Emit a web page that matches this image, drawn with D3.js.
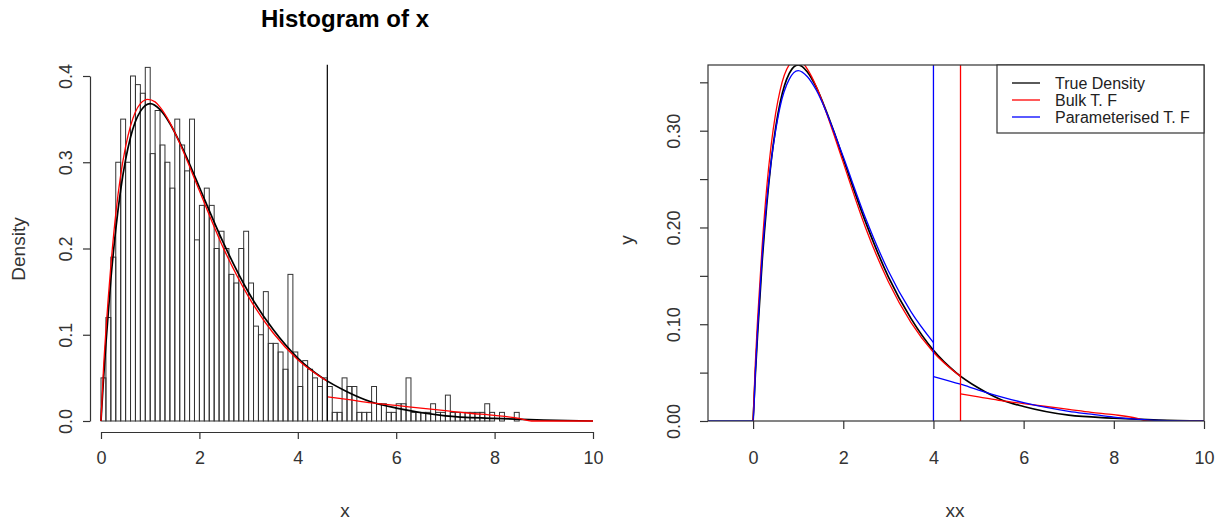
<!DOCTYPE html>
<html>
<head>
<meta charset="utf-8">
<script src="https://cdn.jsdelivr.net/npm/d3@7"></script>
<style>
  html, body { margin: 0; padding: 0; background: #fff; }
  svg { display: block; font-family: "Liberation Sans", Arial, sans-serif; }
</style>
</head>
<body>
<svg id="chart" width="1225" height="522"></svg>
<script>
// ---------------- DATA ----------------
// Histogram (density, bin width 0.1, starting at 0)
const binWidth = 0.1;
const histDensity = [
  0.05, 0.12, 0.19, 0.30, 0.35, 0.30, 0.40, 0.39, 0.38, 0.41,
  0.31, 0.36, 0.32, 0.30, 0.27, 0.35, 0.32, 0.29, 0.35, 0.21,
  0.25, 0.27, 0.25, 0.20, 0.22, 0.20, 0.17, 0.16, 0.20, 0.22,
  0.16, 0.11, 0.10, 0.15, 0.09, 0.09, 0.08, 0.06, 0.17, 0.08,
  0.04, 0.07, 0.06, 0.05, 0.04, 0.05, 0.04, 0.01, 0.01, 0.05,
  0.04, 0.04, 0.01, 0.01, 0.01, 0.04, 0.02, 0.02, 0.01, 0.01,
  0.02, 0.02, 0.05, 0.01, 0.01, 0.01, 0.01, 0.02, 0.01, 0.01,
  0.03, 0.01, 0.01, 0.01, 0.01, 0.01, 0.01, 0.01, 0.02, 0.01,
  0.00, 0.01, 0.00, 0.00, 0.01, 0.00
];

// True density (black)
const trueX = [0, 0.05, 0.1, 0.2, 0.3, 0.4, 0.5, 0.6, 0.8, 1.0, 1.2, 1.4, 1.6, 1.8, 2.0, 2.5, 3.0, 3.5, 4.0, 4.5, 5.0, 5.5, 6.0, 7.0, 8.0, 9.0, 10.0];
const trueY = [0, 0.048, 0.090, 0.164, 0.222, 0.268, 0.303, 0.329, 0.359, 0.368, 0.361, 0.345, 0.323, 0.298, 0.271, 0.205, 0.149, 0.106, 0.073, 0.050, 0.034, 0.022, 0.015, 0.006, 0.003, 0.001, 0.000];

// Bulk tail fit (red): body up to threshold 4.6, then tail
const bulkBodyX = [0, 0.05, 0.1, 0.2, 0.3, 0.4, 0.5, 0.6, 0.8, 0.95, 1.1, 1.2, 1.4, 1.6, 1.8, 2.0, 2.5, 3.0, 3.5, 4.0, 4.6];
const bulkBodyY = [0, 0.060, 0.105, 0.180, 0.240, 0.285, 0.318, 0.342, 0.368, 0.373, 0.370, 0.364, 0.346, 0.322, 0.295, 0.267, 0.199, 0.144, 0.102, 0.071, 0.046];
const bulkTailX = [4.6, 5.0, 5.5, 6.0, 6.5, 7.0, 7.5, 8.0, 8.5, 8.75, 10.0];
const bulkTailY = [0.028, 0.025, 0.021, 0.018, 0.015, 0.012, 0.009, 0.0065, 0.003, 0.000, 0.000];
const bulkThreshold = 4.6;

// Parameterised tail fit (blue): body up to threshold 4, then tail
const paramBodyX = [-1, 0, 0.05, 0.1, 0.2, 0.3, 0.4, 0.5, 0.6, 0.8, 1.0, 1.2, 1.4, 1.6, 1.8, 2.0, 2.5, 3.0, 3.5, 4.0];
const paramBodyY = [0, 0, 0.050, 0.095, 0.170, 0.226, 0.268, 0.300, 0.325, 0.353, 0.362, 0.356, 0.342, 0.322, 0.298, 0.273, 0.209, 0.155, 0.113, 0.081];
const paramTailX = [4.0, 4.6, 5.0, 5.5, 6.0, 6.5, 7.0, 7.5, 8.0, 8.5, 9.0, 10.0];
const paramTailY = [0.046, 0.038, 0.032, 0.025, 0.019, 0.014, 0.010, 0.007, 0.004, 0.002, 0.0005, 0.000];
const paramThreshold = 4.0;

// Axis ticks
const leftXTicks = [0, 2, 4, 6, 8, 10];
const leftYTicks = [0.0, 0.1, 0.2, 0.3, 0.4];
const rightXTicks = [0, 2, 4, 6, 8, 10];
const rightYTicks = [0.00, 0.05, 0.10, 0.15, 0.20, 0.25, 0.30, 0.35];
const rightYLabelled = [0.00, 0.10, 0.20, 0.30];

const legendLabels = ["True Density", "Bulk T. F", "Parameterised T. F"];
const legendColors = ["#000000", "#ff0000", "#0000ff"];

// ---------------- DRAW ----------------
const svg = d3.select("#chart");
const FS = 18;      // tick labels
const FL = 19;      // axis titles
const zip = (xs, ys) => xs.map((x, i) => [x, ys[i]]);

// ===== LEFT PANEL =====
const xL = d3.scaleLinear().domain([0, 10]).range([101, 593]);
const yL = d3.scaleLinear().domain([0, 0.4]).range([421, 76]);
const gL = svg.append("g");

gL.append("g").selectAll("rect").data(histDensity).join("rect")
  .attr("x", (d, i) => xL(i * binWidth))
  .attr("width", (d, i) => xL((i + 1) * binWidth) - xL(i * binWidth))
  .attr("y", d => yL(d))
  .attr("height", d => yL(0) - yL(d))
  .attr("fill", "none")
  .attr("stroke", "#333")
  .attr("stroke-width", 1);

const lineL = d3.line().x(d => xL(d[0])).y(d => yL(d[1])).curve(d3.curveMonotoneX);

gL.append("path").datum(zip(trueX, trueY)).attr("d", lineL)
  .attr("fill", "none").attr("stroke", "#000").attr("stroke-width", 1.7);
gL.append("path").datum(zip(bulkBodyX, bulkBodyY)).attr("d", lineL)
  .attr("fill", "none").attr("stroke", "#ff0000").attr("stroke-width", 1.3);
gL.append("path").datum(zip(bulkTailX, bulkTailY)).attr("d", lineL)
  .attr("fill", "none").attr("stroke", "#ff0000").attr("stroke-width", 1.3);

gL.append("line")
  .attr("x1", xL(bulkThreshold)).attr("x2", xL(bulkThreshold))
  .attr("y1", yL(0)).attr("y2", yL(0.413))
  .attr("stroke", "#000").attr("stroke-width", 1.2);

const axLB = gL.append("g").attr("transform", "translate(0,432)")
  .call(d3.axisBottom(xL).tickValues(leftXTicks).tickFormat(d3.format("d")).tickSize(7).tickSizeOuter(0).tickPadding(12));
const axLL = gL.append("g").attr("transform", "translate(90,0)")
  .call(d3.axisLeft(yL).tickValues(leftYTicks).tickFormat(d3.format(".1f")).tickSize(7).tickSizeOuter(0));
[axLB, axLL].forEach(a => {
  a.selectAll("path, line").attr("stroke", "#333").attr("stroke-width", 1.2);
  a.selectAll("text").attr("fill", "#333").style("font-size", FS + "px").style("font-family", "Liberation Sans, Arial, sans-serif");
});
axLL.selectAll("text").attr("x", 0).attr("y", -18).attr("dy", null)
  .attr("transform", "rotate(-90)").style("text-anchor", "middle");

gL.append("text").attr("x", 345).attr("y", 27).attr("text-anchor", "middle")
  .style("font-size", "24px").style("font-weight", "bold").text("Histogram of x");
gL.append("text").attr("transform", "translate(25,249) rotate(-90)").attr("text-anchor", "middle")
  .style("font-size", FL + "px").attr("fill", "#333").text("Density");
gL.append("text").attr("x", 345).attr("y", 517).attr("text-anchor", "middle")
  .style("font-size", FL + "px").attr("fill", "#333").text("x");

// ===== RIGHT PANEL =====
const xR = d3.scaleLinear().domain([-1, 10]).range([708, 1204]);
const yR = d3.scaleLinear().domain([0, 0.3679]).range([421, 65]);
const gR = svg.append("g");

svg.append("defs").append("clipPath").attr("id", "clipR")
  .append("rect").attr("x", 708).attr("y", 65).attr("width", 496).attr("height", 356);

const plotR = gR.append("g").attr("clip-path", "url(#clipR)");
const lineR = d3.line().x(d => xR(d[0])).y(d => yR(d[1])).curve(d3.curveMonotoneX);

plotR.append("path").datum(zip(trueX, trueY)).attr("d", lineR)
  .attr("fill", "none").attr("stroke", "#000").attr("stroke-width", 1.7);
plotR.append("path").datum(zip(bulkBodyX, bulkBodyY)).attr("d", lineR)
  .attr("fill", "none").attr("stroke", "#ff0000").attr("stroke-width", 1.3);
plotR.append("path").datum(zip(bulkTailX, bulkTailY)).attr("d", lineR)
  .attr("fill", "none").attr("stroke", "#ff0000").attr("stroke-width", 1.3);
plotR.append("path").datum(zip(paramBodyX, paramBodyY)).attr("d", lineR)
  .attr("fill", "none").attr("stroke", "#0000ff").attr("stroke-width", 1.3);
plotR.append("path").datum(zip(paramTailX, paramTailY)).attr("d", lineR)
  .attr("fill", "none").attr("stroke", "#0000ff").attr("stroke-width", 1.3);

plotR.append("line")
  .attr("x1", xR(bulkThreshold)).attr("x2", xR(bulkThreshold))
  .attr("y1", yR(0)).attr("y2", 65)
  .attr("stroke", "#ff0000").attr("stroke-width", 1.3);
plotR.append("line")
  .attr("x1", xR(paramThreshold)).attr("x2", xR(paramThreshold))
  .attr("y1", yR(0)).attr("y2", 65)
  .attr("stroke", "#0000ff").attr("stroke-width", 1.3);

gR.append("rect").attr("x", 708).attr("y", 65).attr("width", 496).attr("height", 356)
  .attr("fill", "none").attr("stroke", "#333").attr("stroke-width", 1.2);

const axRB = gR.append("g").attr("transform", "translate(0,421)")
  .call(d3.axisBottom(xR).tickValues(rightXTicks).tickFormat(d3.format("d")).tickSize(8).tickSizeOuter(0).tickPadding(22));
const axRL = gR.append("g").attr("transform", "translate(708,0)")
  .call(d3.axisLeft(yR).tickValues(rightYTicks)
    .tickFormat(d => rightYLabelled.some(v => Math.abs(v - d) < 1e-9) ? d3.format(".2f")(d) : "")
    .tickSize(8).tickSizeOuter(0));
[axRB, axRL].forEach(a => {
  a.select("path.domain").remove();
  a.selectAll("line").attr("stroke", "#333").attr("stroke-width", 1.2);
  a.selectAll("text").attr("fill", "#333").style("font-size", FS + "px").style("font-family", "Liberation Sans, Arial, sans-serif");
});
axRL.selectAll("text").attr("x", 0).attr("y", -28).attr("dy", null)
  .attr("transform", "rotate(-90)").style("text-anchor", "middle");

gR.append("text").attr("x", 955).attr("y", 517).attr("text-anchor", "middle")
  .style("font-size", FL + "px").attr("fill", "#333").text("xx");
gR.append("text").attr("transform", "translate(633,240) rotate(-90)").attr("text-anchor", "middle")
  .style("font-size", FL + "px").attr("fill", "#333").text("y");

// legend
const lg = gR.append("g");
lg.append("rect").attr("x", 997).attr("y", 65).attr("width", 207).attr("height", 68)
  .attr("fill", "#fff").attr("stroke", "#333").attr("stroke-width", 1.2);
legendLabels.forEach((lab, i) => {
  const yy = 83 + i * 17;
  lg.append("line").attr("x1", 1012).attr("x2", 1040).attr("y1", yy).attr("y2", yy)
    .attr("stroke", legendColors[i]).attr("stroke-width", 1.3);
  lg.append("text").attr("x", 1055).attr("y", yy + 5.5).style("font-size", "16px")
    .attr("fill", "#222").text(lab);
});
</script>
</body>
</html>
